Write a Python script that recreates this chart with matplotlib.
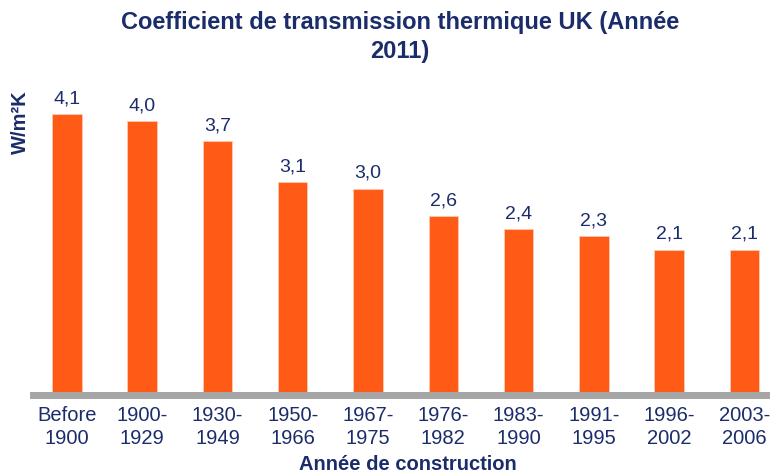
import matplotlib.pyplot as plt

plt.rcParams['font.family'] = ['Liberation Sans', 'DejaVu Sans']

periodes = ['Before\n1900', '1900-\n1929', '1930-\n1949', '1950-\n1966', '1967-\n1975',
            '1976-\n1982', '1983-\n1990', '1991-\n1995', '1996-\n2002', '2003-\n2006']
valeurs = [4.1, 4.0, 3.7, 3.1, 3.0, 2.6, 2.4, 2.3, 2.1, 2.1]

navy = '#1B2C6B'
orange = '#FF5A16'

fig = plt.figure(figsize=(7.75, 4.75), dpi=100)
ax = fig.add_axes([30/775, 1-399/475, 740/775, (399-87)/475])

x = range(len(valeurs))
ax.bar(x, valeurs, width=0.39, color=orange, edgecolor='#FFC9B0', linewidth=0.6)
ax.axhspan(-0.103, 0, color='#A6A6A6', lw=0)
for xi, v in zip(x, valeurs):
    ax.text(xi, v + 0.1, f'{v:.1f}'.replace('.', ','), ha='center', va='bottom',
            fontsize=14, color=navy)

ax.set_xlim(-0.49, 9.34)
ax.set_ylim(-0.103, 4.5)
ax.set_xticks(list(x))
ax.set_xticklabels(periodes, fontsize=14.5, color=navy, linespacing=1.25)
ax.tick_params(axis='x', length=0, pad=5)
ax.set_yticks([])
for s in ax.spines.values():
    s.set_visible(False)

fig.text(400/775, 1-37/475, 'Coefficient de transmission thermique UK (Année\n2011)',
         ha='center', va='center', fontsize=17, fontweight='bold', color=navy, linespacing=1.3)
fig.text(20/775, 1-122/475, 'W/m²K', rotation=90, ha='center', va='center',
         fontsize=14.5, fontweight='bold', color=navy)
fig.text(408/775, 1-465/475, 'Année de construction', ha='center', va='center',
         fontsize=14.5, fontweight='bold', color=navy)

plt.savefig('out.png', dpi=100)
